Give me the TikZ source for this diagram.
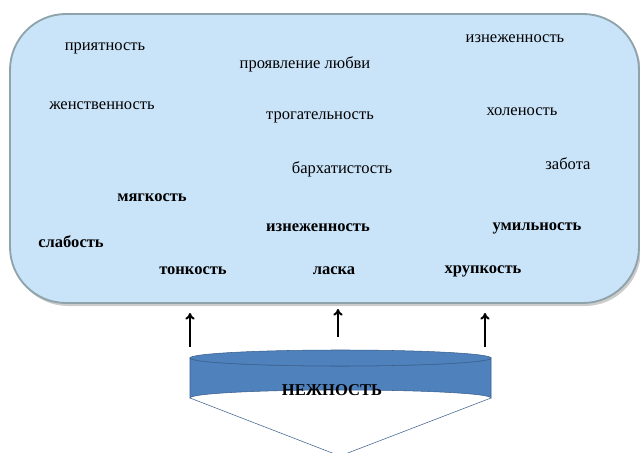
\documentclass[tikz,border=0pt]{standalone}
\usepackage{fontspec}
\setmainfont{Liberation Serif}
\usetikzlibrary{positioning,arrows.meta}
\definecolor{fieldfill}{HTML}{C9E3F9}
\definecolor{fieldline}{HTML}{8FA3AB}
\definecolor{drumfill}{HTML}{4F81BD}
\definecolor{drumline}{HTML}{3A5F8C}

\begin{document}
\begin{tikzpicture}[x=0.75pt,y=-0.75pt,
    word/.style={font=\fontsize{12.4}{14}\selectfont,inner sep=0pt,yshift=-1.5pt},
    boldword/.style={word,font=\fontsize{12.4}{14}\selectfont\bfseries},
    uparrow/.style={-{To[length=5pt,width=7pt]},line width=1.5pt}]
    \useasboundingbox (0,0) rectangle (640,453);
    % field of meanings
    \fill[gray!40,rounded corners=42] (12,17) rectangle (641,306);
    \draw[line width=1.4pt,fieldline,fill=fieldfill,rounded corners=42] (10,14) rectangle (639,303);
    \foreach \p/\w [count=\i] in {
        {105,46}/приятность,
        {305,62}/проявление любви,
        {515,37}/изнеженность,
        {102,104}/женственность,
        {320,115}/трогательность,
        {522,110}/холеность,
        {342,167}/бархатистость,
        {568,162}/забота
    } {
        \node[word] (w\i) at (\p) {\w};
    }
    \foreach \p/\w [count=\i] in {
        {152,196}/мягкость,
        {318,226}/изнеженность,
        {537,226}/умильность,
        {71,240}/слабость,
        {193,269}/тонкость,
        {334,269}/ласка,
        {483,269}/хрупкость
    } {
        \node[boldword] (b\i) at (\p) {\w};
    }
    % cylinder
    \draw[drumline,fill=drumfill] (190,358) -- (190,398) arc[start angle=180,end angle=360,x radius=150.5,y radius=8]
        -- (491,358) arc[start angle=0,end angle=180,x radius=150.5,y radius=8] -- cycle;
    \draw[drumline,fill=drumfill] (340.5,358) ellipse[x radius=150.5,y radius=8];
    \node[boldword] (core) at (332,388) {НЕЖНОСТЬ};
    \coordinate (apex) at (340,456);
    \draw[drumline] (190,398) -- (apex) -- (491,398);
    % arrows
    \foreach \x/\a/\b [count=\i] in {190/347/313,338/337/309,485/347/313} {
        \coordinate (s\i) at (\x,\a);
        \coordinate (t\i) at (\x,\b);
        \draw[uparrow] (s\i) -- (t\i);
    }
\end{tikzpicture}
\end{document}
